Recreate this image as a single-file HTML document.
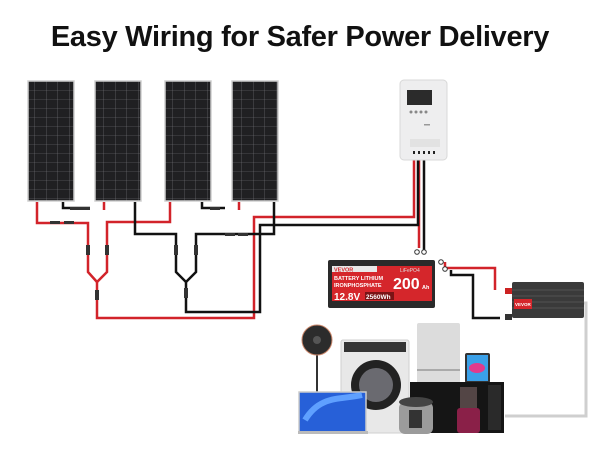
<!DOCTYPE html>
<html><head><meta charset="utf-8"><style>
body{margin:0;background:#fff;width:600px;height:450px;overflow:hidden;position:relative;font-family:"Liberation Sans",sans-serif}
h1{position:absolute;top:21px;left:0;width:600px;text-align:center;margin:0;font-size:29px;font-weight:bold;color:#111;letter-spacing:-0.3px}
svg{position:absolute;left:0;top:0}
</style></head><body>
<h1>Easy Wiring for Safer Power Delivery</h1>
<svg width="600" height="450" viewBox="0 0 600 450">
<defs>
<pattern id="cells" width="11.5" height="9" patternUnits="userSpaceOnUse">
<rect width="11.5" height="9" fill="#202022"/>
<path d="M0 0H11.5M0 0V9" stroke="#7a7a7e" stroke-width="0.6"/>
</pattern>
</defs>
<g stroke="#cfcfcf" stroke-width="1.5">
<rect x="28" y="81" width="46" height="120" fill="url(#cells)"/>
<rect x="95" y="81" width="46" height="120" fill="url(#cells)"/>
<rect x="165" y="81" width="46" height="120" fill="url(#cells)"/>
<rect x="232" y="81" width="46" height="120" fill="url(#cells)"/>
</g>
<g fill="none" stroke="#d2232a" stroke-width="2.5">
<path d="M37 202V223H88V272L97 282L107 272V222H170V202"/>
<path d="M104 202V210"/>
<path d="M239 202V210"/>
<path d="M97 282V318H254V217H414V160"/>
<path d="M445 262V268H495V290"/>
<path d="M419 160V248"/>
</g>
<g fill="none" stroke="#111" stroke-width="2.5">
<path d="M63 202V208H90"/>
<path d="M202 202V208H225"/>
<path d="M135 202V234H176V272L186 282L196 272V234H274V202"/>
<path d="M186 282V312H260V225H418V160"/>
<path d="M424 160V250"/>
<path d="M451 270V275H473V318H500"/>
</g>
<g fill="#333">
<rect x="50" y="221" width="10" height="3"/><rect x="64" y="221" width="10" height="3"/>
<rect x="86" y="245" width="4" height="10"/><rect x="105" y="245" width="4" height="10"/>
<rect x="95" y="290" width="4" height="10"/><rect x="184" y="288" width="4" height="10"/>
<rect x="174" y="245" width="4" height="10"/><rect x="194" y="245" width="4" height="10"/>
<rect x="70" y="207" width="10" height="3"/><rect x="80" y="207" width="10" height="3"/>
<rect x="210" y="207" width="10" height="3"/><rect x="225" y="233" width="10" height="3"/>
<rect x="238" y="233" width="10" height="3"/>
</g>
<g fill="#fff" stroke="#333" stroke-width="1"><circle cx="417" cy="252" r="2.3"/><circle cx="424" cy="252" r="2.3"/><circle cx="441" cy="262" r="2.3"/><circle cx="445" cy="269" r="2.3"/></g>
<rect x="400" y="80" width="47" height="80" rx="4" fill="#eeeeef" stroke="#d8d8d8"/>
<rect x="407" y="90" width="25" height="15" fill="#2b2b2b"/>
<g fill="#888"><circle cx="411" cy="112" r="1.5"/><circle cx="416" cy="112" r="1.5"/><circle cx="421" cy="112" r="1.5"/><circle cx="426" cy="112" r="1.5"/></g>
<rect x="424" y="124" width="6" height="1.5" fill="#999"/><rect x="410" y="139" width="30" height="8" fill="#e2e2e2"/>
<g fill="#222"><rect x="413" y="151" width="2" height="3"/><rect x="418" y="151" width="2" height="3"/><rect x="423" y="151" width="2" height="3"/><rect x="428" y="151" width="2" height="3"/><rect x="433" y="151" width="2" height="3"/></g>
<rect x="328" y="260" width="107" height="48" rx="2" fill="#2a2a2a"/>
<rect x="332" y="266" width="100" height="35" fill="#d5262b"/>
<rect x="332" y="266" width="45" height="6" fill="#e8e8e8"/>
<text x="334" y="271.5" font-size="5.5" font-weight="bold" fill="#d5262b">VEVOR</text>
<text x="400" y="272" font-size="5" fill="#ddd">LiFePO4</text>
<text x="334" y="280" font-size="5.5" font-weight="bold" fill="#fff">BATTERY LITHIUM</text>
<text x="334" y="287" font-size="5.5" font-weight="bold" fill="#fff">IRONPHOSPHATE</text>
<text x="393" y="289" font-size="16" font-weight="bold" fill="#fff">200</text>
<text x="422" y="289" font-size="5.5" font-weight="bold" fill="#fff">Ah</text>
<text x="334" y="300" font-size="10" font-weight="bold" fill="#fff">12.8V</text>
<rect x="365" y="292" width="29" height="8" fill="#7a1315"/>
<text x="366" y="299" font-size="6.5" font-weight="bold" fill="#fff">2560Wh</text>
<rect x="505" y="288" width="7" height="6" fill="#c22"/>
<rect x="505" y="314" width="7" height="6" fill="#333"/>
<rect x="512" y="282" width="72" height="36" rx="2" fill="#3a3a3a"/>
<path d="M512 290H584M512 296H584M512 302H584M512 308H584" stroke="#4a4a4a" stroke-width="1.5"/>
<rect x="514" y="299" width="18" height="10" fill="#d5262b"/>
<text x="515" y="306" font-size="4.5" font-weight="bold" fill="#fff">VEVOR</text>
<path d="M584 303H586V416H505" fill="none" stroke="#cfcfcf" stroke-width="3"/>
<line x1="317" y1="355" x2="317" y2="395" stroke="#333" stroke-width="2"/>
<circle cx="317" cy="340" r="15" fill="#2c2c2c" stroke="#c9866a" stroke-width="1"/>
<circle cx="317" cy="340" r="4" fill="#555"/>
<rect x="417" y="323" width="43" height="62" rx="2" fill="#dcdcdc"/>
<rect x="417" y="369" width="43" height="2" fill="#aaa"/>
<rect x="341" y="340" width="68" height="93" rx="2" fill="#e8e8e8" stroke="#cfcfcf"/>
<rect x="344" y="342" width="62" height="10" fill="#333"/>
<circle cx="376" cy="385" r="25" fill="#222"/>
<circle cx="376" cy="385" r="17" fill="#6a6a70"/>
<rect x="465" y="353" width="25" height="30" rx="2" fill="#333"/>
<rect x="467" y="355" width="21" height="26" fill="#3aa0e8"/>
<ellipse cx="477" cy="368" rx="8" ry="5" fill="#e23a8c"/>
<rect x="410" y="382" width="94" height="51" fill="#151515"/>
<rect x="488" y="385" width="13" height="45" fill="#2a2a2a"/>
<rect x="299" y="392" width="67" height="40" fill="#2760d8" stroke="#ccc" stroke-width="1.5"/>
<path d="M305 420C320 395 340 400 362 395" stroke="#5fa0ff" stroke-width="6" fill="none"/>
<rect x="298" y="431" width="70" height="3" fill="#bbb"/>
<rect x="399" y="402" width="34" height="32" rx="6" fill="#9b9b9b"/>
<ellipse cx="416" cy="402" rx="17" ry="5" fill="#444"/>
<rect x="409" y="410" width="13" height="18" fill="#333"/>
<rect x="460" y="387" width="17" height="22" fill="#5a4a4a" opacity="0.9"/>
<rect x="457" y="408" width="23" height="25" rx="3" fill="#8a2048"/>
</svg>
</body></html>
